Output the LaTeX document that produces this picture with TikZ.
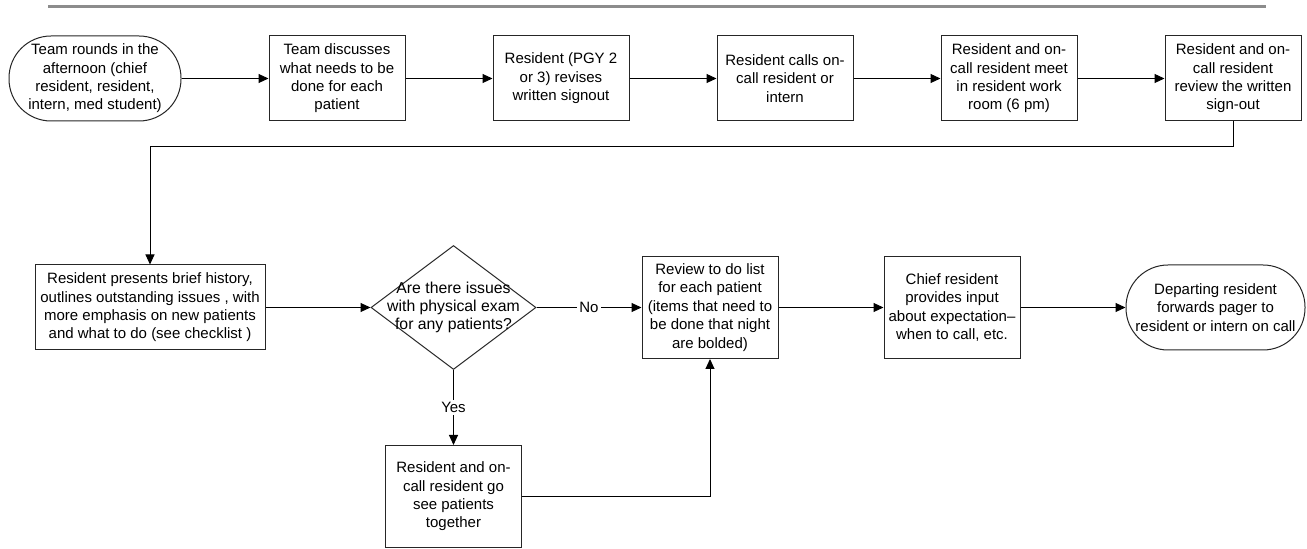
\documentclass[tikz,border=0pt]{standalone}
\usepackage{fontspec}
\setmainfont{Liberation Sans}
\usetikzlibrary{arrows.meta,positioning,shapes.geometric}

\begin{document}
\begin{tikzpicture}[
  x=0.5pt, y=-0.5pt,
  font=\fontsize{7.5}{9.2}\selectfont,
  >={Triangle[length=5pt,width=4.5pt]},
  line width=0.5pt,
  stepbox/.style={draw=black!85, align=center, inner sep=1pt,
    minimum width=68pt, minimum height=42.5pt},
  endcap/.style={draw=black!85, rounded corners=21pt, align=center,
    inner sep=1pt, minimum height=42.5pt},
  decision/.style={draw=black!85, diamond, inner sep=0pt,
    minimum width=82.5pt, minimum height=62pt},
  tag/.style={fill=white, inner sep=1pt}
]
\useasboundingbox (0,0) rectangle (1307,549);
% header rule
\draw[black!45, line width=1.6pt] (48,6.5) -- (1266,6.5);

% Row 1: afternoon preparation
\node[endcap, minimum width=86pt] (rounds) at (95,78.5)
  {Team rounds in the\\afternoon (chief\\resident, resident,\\intern, med student)};
\node[stepbox, right=43.5pt of rounds] (discuss)
  {Team discusses\\what needs to be\\done for each\\patient};
\node[stepbox, right=43.5pt of discuss] (revise)
  {Resident (PGY 2\\or 3) revises\\written signout};
\node[stepbox, right=43.5pt of revise] (phone)
  {Resident calls on-\\call resident or\\intern};
\node[stepbox, right=43.5pt of phone] (meet)
  {Resident and on-\\call resident meet\\in resident work\\room (6 pm)};
\node[stepbox, right=43.5pt of meet] (reviewout)
  {Resident and on-\\call resident\\review the written\\sign-out};

% Row 2: the sign-out itself
\node[stepbox, minimum width=115pt] (present) at (150,307.5)
  {Resident presents brief history,\\outlines outstanding issues , with\\more emphasis on new patients\\and what to do (see checklist )};
\node[decision, right=52.5pt of present] (exam) {};
\node[align=center, font=\fontsize{7.9}{9.2}\selectfont] (examtext) at (exam.center)
  {Are there issues\\with physical exam\\for any patients?};
\node[stepbox, minimum height=51pt, right=52.5pt of exam] (todo)
  {Review to do list\\for each patient\\(items that need to\\be done that night\\are bolded)};
\node[stepbox, minimum height=51pt, right=52.5pt of todo] (chief)
  {Chief resident\\provides input\\about expectation--\\when to call, etc.};
\node[endcap, minimum width=89.5pt, right=52.5pt of chief] (pager)
  {Departing resident\\forwards pager to\\resident or intern on call};
\node[stepbox, minimum height=51pt, below=37.5pt of exam] (together)
  {Resident and on-\\call resident go\\see patients\\together};

% connectors
\draw[->] (rounds) -- (discuss);
\draw[->] (discuss) -- (revise);
\draw[->] (revise) -- (phone);
\draw[->] (phone) -- (meet);
\draw[->] (meet) -- (reviewout);
\draw[->] (reviewout.south) -- ++(0,25) -| (present.north);
\draw[->] (present) -- (exam);
\draw[->] (exam) -- node[tag] {No} (todo);
\draw[->] (exam) -- node[tag] {Yes} (together);
\draw[->] (together.east) -| (todo.south);
\draw[->] (todo) -- (chief);
\draw[->] (chief) -- (pager);
\end{tikzpicture}
\end{document}
